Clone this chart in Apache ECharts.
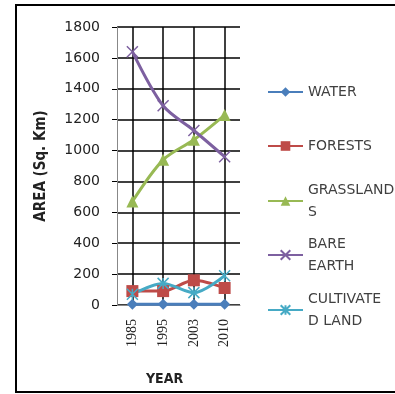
<!DOCTYPE html>
<html>
<head>
<meta charset="utf-8">
<script src="https://cdn.jsdelivr.net/npm/echarts@6/dist/echarts.min.js"></script>
<style>
  html, body { margin: 0; padding: 0; background: #fff; }
  #chart { width: 395px; height: 394px; }
</style>
</head>
<body>
<div id="chart"></div>
<script>
// Land cover area by year (Sq. Km)
const years = ['1985', '1995', '2003', '2010'];
const water = [5, 5, 5, 5];
const forests = [90, 90, 160, 110];
const grasslands = [670, 940, 1070, 1230];
const bareEarth = [1640, 1290, 1130, 960];
const cultivatedLand = [70, 140, 80, 190];
const yTicks = { min: 0, max: 1800, step: 200 };

const seriesDefs = [
  { name: 'WATER', label: 'WATER', data: water, color: '#4A7EBB', symbol: 'diamond', size: 11 },
  { name: 'FORESTS', label: 'FORESTS', data: forests, color: '#BE4B48', symbol: 'rect', size: 12 },
  { name: 'GRASSLANDS', label: 'GRASSLAND\nS', data: grasslands, color: '#98B954', symbol: 'triangle', size: 12 },
  { name: 'BARE EARTH', label: 'BARE\nEARTH', data: bareEarth, color: '#7D60A0', symbol: 'path://M0,0L10,10M10,0L0,10', size: 11 },
  { name: 'CULTIVATED LAND', label: 'CULTIVATE\nD LAND', data: cultivatedLand, color: '#46AAC5', symbol: 'path://M0,0L10,10M10,0L0,10M5,0L5,10', size: 11 }
];

const legendIconY = [92, 146, 201, 255, 310];

const chart = echarts.init(document.getElementById('chart'), null, { renderer: 'canvas' });

const legends = seriesDefs.map((s, i) => {
  const twoLine = s.label.indexOf('\n') >= 0;
  return {
    data: [s.name],
    left: 267,
    top: legendIconY[i] - (twoLine ? 33 : 11),
    padding: 0,
    itemWidth: 35,
    itemHeight: 12,
    selectedMode: false,
    formatter: () => s.label,
    textStyle: {
      fontFamily: 'DejaVu Sans',
      fontSize: 14,
      color: '#404040',
      lineHeight: 22,
      padding: twoLine ? [22, 0, 0, 0] : 0
    }
  };
});

chart.setOption({
  animation: false,
  backgroundColor: '#fff',
  graphic: [{
    type: 'rect',
    shape: { x: 16, y: 5, width: 400, height: 387 },
    style: { fill: 'none', stroke: '#000', lineWidth: 2 },
    z: 100
  }],
  legend: legends,
  grid: { left: 117, top: 27, width: 123, height: 278 },
  xAxis: {
    type: 'category',
    data: years,
    boundaryGap: true,
    name: 'YEAR',
    nameLocation: 'middle',
    nameGap: 67,
    nameTextStyle: { fontFamily: 'DejaVu Sans Condensed', fontWeight: 'bold', fontSize: 14, color: '#222', padding: [0, 28, 0, 0] },
    axisLine: { show: true, lineStyle: { color: '#888', width: 1 } },
    axisTick: { show: false },
    axisLabel: { rotate: 90, margin: 14, fontFamily: 'Liberation Sans Narrow', fontSize: 14, color: '#222' },
    splitLine: { show: true, alignWithLabel: true, lineStyle: { color: '#000', width: 1.5 } }
  },
  yAxis: {
    type: 'value',
    min: yTicks.min,
    max: yTicks.max,
    interval: yTicks.step,
    name: 'AREA (Sq. Km)',
    nameLocation: 'middle',
    nameGap: 68,
    nameTextStyle: { fontFamily: 'DejaVu Sans Condensed', fontWeight: 'bold', fontSize: 15, color: '#222' },
    axisLine: { show: true, lineStyle: { color: '#888', width: 1 } },
    axisTick: { show: true, inside: false, length: 5, lineStyle: { color: '#000' } },
    axisLabel: { margin: 17, fontFamily: 'DejaVu Sans', fontSize: 14, color: '#222', formatter: v => String(v) },
    splitLine: { show: true, lineStyle: { color: '#000', width: 1.5 } }
  },
  series: seriesDefs.map(s => ({
    name: s.name,
    type: 'line',
    data: s.data,
    smooth: 0.3,
    symbol: s.symbol,
    symbolSize: s.size,
    showSymbol: true,
    lineStyle: { color: s.color, width: 3 },
    itemStyle: { color: s.color, borderColor: s.color, borderWidth: s.symbol.startsWith('path') ? 1.5 : 0 },
    emphasis: { disabled: true }
  }))
});
</script>
</body>
</html>
